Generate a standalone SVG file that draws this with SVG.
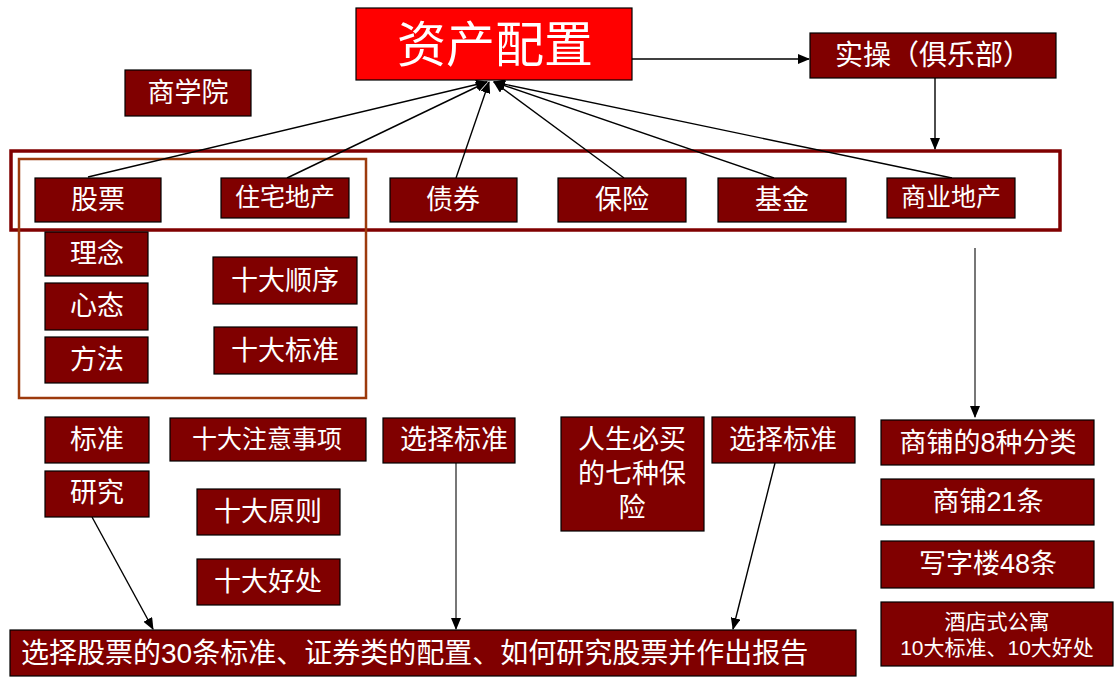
<svg xmlns="http://www.w3.org/2000/svg" width="1114" height="680" viewBox="0 0 1114 680">
<style>
.box{fill:#800000;stroke:#000;stroke-width:1.2}
.t{fill:#FFFFFF;font-family:"Liberation Sans","Noto Sans CJK SC",sans-serif;text-anchor:middle}
.f26{font-size:27px}
.f24{font-size:25px}
.ln{stroke:#000;stroke-width:1.4;fill:none}
.gl{stroke:#555;stroke-width:1.6;fill:none}
</style>
<defs>
<marker id="ah" markerUnits="userSpaceOnUse" markerWidth="12" markerHeight="10" refX="11" refY="5" orient="auto">
<path d="M0,0 L12,5 L0,10 z" fill="#000"/>
</marker>
</defs>
<rect width="1114" height="680" fill="#fff"/>
<g id="frames">
<rect x="11" y="151" width="1049" height="79" fill="none" stroke="#800000" stroke-width="3.5"/>
<rect x="19" y="159" width="347" height="239" fill="none" stroke="#9C3A0C" stroke-width="2.5"/>
</g>
<g id="connectors">
<line class="ln" x1="632" y1="59" x2="809" y2="59" marker-end="url(#ah)"/>
<line class="ln" x1="935" y1="78" x2="935" y2="149" marker-end="url(#ah)"/>
<line class="ln" x1="88" y1="177" x2="487" y2="82" marker-end="url(#ah)"/>
<line class="ln" x1="287" y1="178" x2="487" y2="82" marker-end="url(#ah)"/>
<line class="ln" x1="456" y1="178" x2="489" y2="82" marker-end="url(#ah)"/>
<line class="ln" x1="624" y1="178" x2="494" y2="82" marker-end="url(#ah)"/>
<line class="ln" x1="774" y1="178" x2="494" y2="82" marker-end="url(#ah)"/>
<line class="ln" x1="952" y1="178" x2="494" y2="82" marker-end="url(#ah)"/>
<line class="gl" x1="975" y1="248" x2="975" y2="417" marker-end="url(#ah)"/>
<line class="ln" x1="92" y1="517" x2="153" y2="629" marker-end="url(#ah)"/>
<line class="gl" x1="456" y1="463" x2="456" y2="629" marker-end="url(#ah)"/>
<line class="ln" x1="775" y1="463" x2="733" y2="629" marker-end="url(#ah)"/>
</g>
<g id="n-main">
<rect x="356" y="8" width="276" height="72" fill="#FF0000" stroke="#000" stroke-width="1.2"/>
<text class="t" x="495" y="62" font-size="49" fill="#F2F2F2">资产配置</text>
</g>
<g id="n-shicao"><rect class="box" x="810" y="33" width="246" height="45"/><text class="t" x="933" y="65" font-size="28">实操（俱乐部）</text></g>
<g id="n-sxy"><rect class="box" x="125" y="70" width="126" height="46"/><text class="t f26" x="188" y="102">商学院</text></g>
<g id="n-gp"><rect class="box" x="35" y="178" width="126" height="44"/><text class="t f26" x="98" y="209">股票</text></g>
<g id="n-zzdc"><rect class="box" x="221" y="178" width="128" height="40"/><text class="t f24" x="285" y="206">住宅地产</text></g>
<g id="n-zq"><rect class="box" x="390" y="178" width="127" height="44"/><text class="t f26" x="453" y="209">债券</text></g>
<g id="n-bx"><rect class="box" x="558" y="178" width="128" height="44"/><text class="t f26" x="622" y="209">保险</text></g>
<g id="n-jj"><rect class="box" x="718" y="178" width="128" height="44"/><text class="t f26" x="782" y="209">基金</text></g>
<g id="n-sydc"><rect class="box" x="887" y="178" width="128" height="40"/><text class="t f24" x="951" y="206">商业地产</text></g>
<g id="n-ln"><rect class="box" x="45" y="232" width="103" height="44"/><text class="t f26" x="97" y="263">理念</text></g>
<g id="n-xt"><rect class="box" x="45" y="283" width="103" height="47"/><text class="t f26" x="97" y="315">心态</text></g>
<g id="n-ff"><rect class="box" x="45" y="337" width="103" height="46"/><text class="t f26" x="97" y="369">方法</text></g>
<g id="n-sdsx"><rect class="box" x="213" y="257" width="144" height="47"/><text class="t f26" x="285" y="290">十大顺序</text></g>
<g id="n-sdbz"><rect class="box" x="214" y="327" width="143" height="47"/><text class="t f26" x="285" y="360">十大标准</text></g>
<g id="n-bz"><rect class="box" x="45" y="417" width="104" height="46"/><text class="t f26" x="97" y="449">标准</text></g>
<g id="n-yj"><rect class="box" x="45" y="471" width="104" height="46"/><text class="t f26" x="97" y="502">研究</text></g>
<g id="n-sdzysx"><rect class="box" x="170" y="418" width="196" height="43"/><text class="t f24" x="267" y="448">十大注意事项</text></g>
<g id="n-sdyz"><rect class="box" x="197" y="489" width="143" height="46"/><text class="t f26" x="268" y="521">十大原则</text></g>
<g id="n-sdhc"><rect class="box" x="197" y="559" width="143" height="46"/><text class="t f26" x="268" y="591">十大好处</text></g>
<g id="n-xzbz1"><rect class="box" x="383" y="418" width="132" height="45"/><text class="t f26" x="454" y="449">选择标准</text></g>
<g id="n-rs"><rect class="box" x="561" y="417" width="143" height="114"/>
<text class="t f26" x="632" y="449">人生必买</text>
<text class="t f26" x="632" y="483">的七种保</text>
<text class="t f26" x="632" y="517">险</text></g>
<g id="n-xzbz2"><rect class="box" x="712" y="417" width="143" height="46"/><text class="t f26" x="783" y="449">选择标准</text></g>
<g id="n-bottom"><rect class="box" x="10" y="630" width="846" height="46"/><text class="t" x="21" y="663" font-size="28" style="text-anchor:start">选择股票的30条标准、证券类的配置、如何研究股票并作出报告</text></g>
<g id="n-sp8"><rect class="box" x="881" y="420" width="213" height="45"/><text class="t f26" x="988" y="452">商铺的8种分类</text></g>
<g id="n-sp21"><rect class="box" x="881" y="479" width="213" height="46"/><text class="t f26" x="988" y="511">商铺21条</text></g>
<g id="n-xzl"><rect class="box" x="881" y="541" width="213" height="47"/><text class="t f26" x="988" y="573">写字楼48条</text></g>
<g id="n-jd"><rect class="box" x="881" y="602" width="232" height="64"/>
<text class="t" x="997" y="629" font-size="21">酒店式公寓</text>
<text class="t" x="997" y="655" font-size="21">10大标准、10大好处</text></g>
</svg>
